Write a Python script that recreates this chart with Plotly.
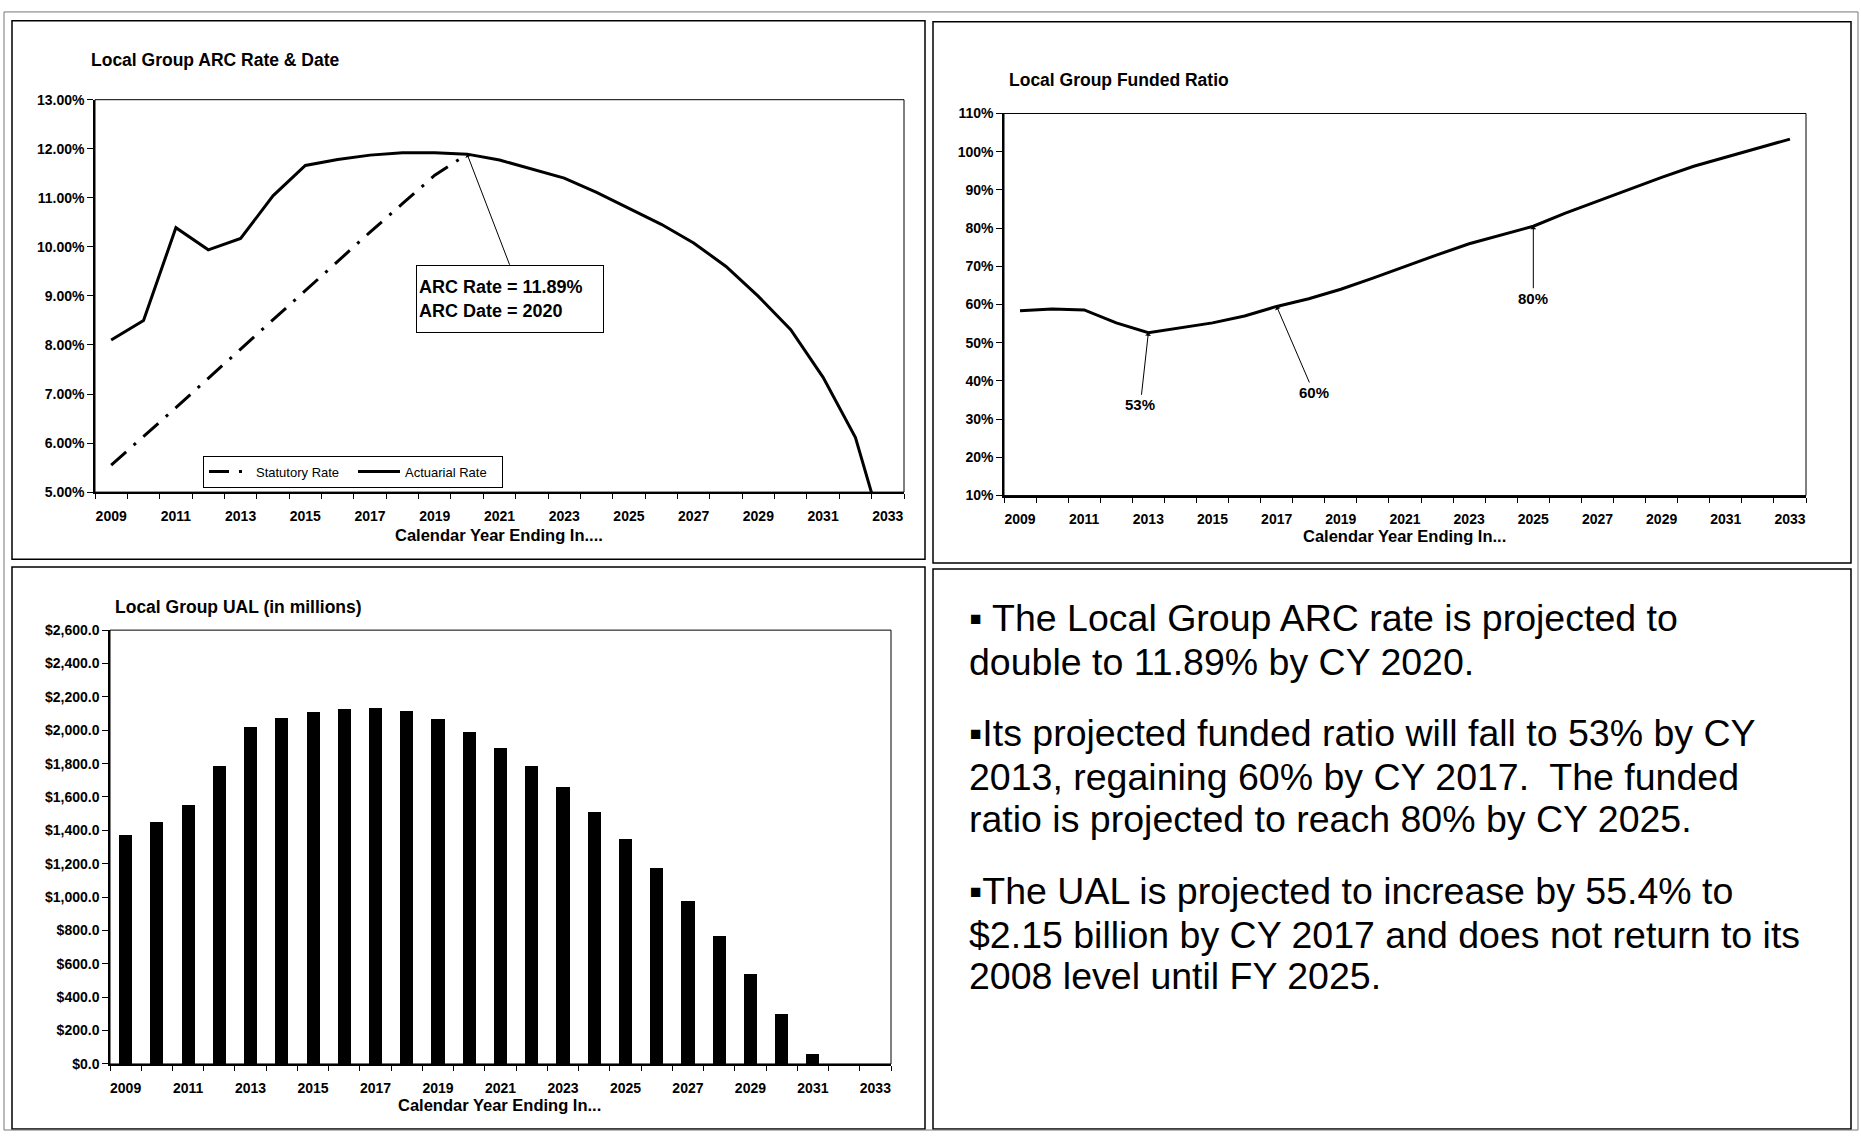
import plotly.graph_objects as go

W, H = 1861, 1139

# ---- data -------------------------------------------------------------
years = [2009, 2010, 2011, 2012, 2013, 2014, 2015, 2016, 2017, 2018, 2019, 2020,
         2021, 2022, 2023, 2024, 2025, 2026, 2027, 2028, 2029, 2030, 2031, 2032, 2033]
label_years = [2009, 2011, 2013, 2015, 2017, 2019, 2021, 2023, 2025, 2027, 2029, 2031, 2033]

# ARC rate (%)
actuarial_rate = [8.10, 8.50, 10.39, 9.94, 10.17, 11.04, 11.66, 11.78, 11.87, 11.92, 11.92, 11.89,
                  11.77, 11.59, 11.40, 11.11, 10.79, 10.46, 10.08, 9.60, 8.99, 8.31, 7.34, 6.11, 3.85]
statutory_years = [2009, 2010, 2011, 2012, 2013, 2014, 2015, 2016, 2017, 2018, 2019, 2020]
statutory_rate = [5.55, 6.13, 6.72, 7.32, 7.92, 8.52, 9.12, 9.70, 10.30, 10.88, 11.46, 11.89]

# Funded ratio (%)
funded_ratio = [58.4, 58.8, 58.6, 55.2, 52.6, 53.9, 55.2, 57.0, 59.5, 61.5, 64.0, 66.9,
                70.0, 73.0, 75.9, 78.2, 80.5, 83.9, 87.1, 90.2, 93.3, 96.2, 98.6, 101.0, 103.3]

# UAL ($ millions)
ual = [1373, 1449, 1554, 1787, 2020, 2070, 2107, 2125, 2135, 2112, 2064, 1990,
       1894, 1785, 1660, 1512, 1349, 1172, 978, 767, 540, 301, 61, 0, 0]

bullet_lines = [
    "\u25aa The Local Group ARC rate is projected to",
    "double to 11.89% by CY 2020.",
    "\u25aaIts projected funded ratio will fall to 53% by CY",
    "2013, regaining 60% by CY 2017.  The funded",
    "ratio is projected to reach 80% by CY 2025.",
    "\u25aaThe UAL is projected to increase by 55.4% to",
    "$2.15 billion by CY 2017 and does not return to its",
    "2008 level until FY 2025.",
]
bullet_line_y = [619, 663, 735, 780, 823, 896, 940, 982]


def px(x):
    return x / W


def py(y):
    return 1 - y / H


FONT = "Arial, Liberation Sans, sans-serif"
tick_font = dict(family=FONT, size=14, color="black", weight=700)

fig = go.Figure()

# ---- chart 1: ARC rate ------------------------------------------------
fig.add_trace(go.Scatter(
    x=statutory_years, y=statutory_rate, mode="lines", name="Statutory Rate",
    line=dict(color="black", width=3, dash="20px,10px,3px,10px"),
    xaxis="x", yaxis="y", showlegend=True))
fig.add_trace(go.Scatter(
    x=years, y=actuarial_rate, mode="lines", name="Actuarial Rate",
    line=dict(color="black", width=3),
    xaxis="x", yaxis="y", showlegend=True))

# ---- chart 2: funded ratio --------------------------------------------
fig.add_trace(go.Scatter(
    x=years, y=funded_ratio, mode="lines", name="Funded Ratio",
    line=dict(color="black", width=3),
    xaxis="x2", yaxis="y2", showlegend=False))

# ---- chart 3: UAL bars -------------------------------------------------
fig.add_trace(go.Bar(
    x=years, y=ual, name="UAL", marker=dict(color="black", line=dict(width=0)),
    width=0.42, xaxis="x3", yaxis="y3", showlegend=False))


def year_axis(x0, x1, anchor):
    return dict(
        domain=[px(x0), px(x1)], anchor=anchor, range=[2008.5, 2033.5],
        tickmode="array", tickvals=label_years, ticktext=[str(v) for v in label_years],
        ticks="", ticklabelstandoff=10, tickfont=tick_font,
        showgrid=False, zeroline=False,
        showline=True, linecolor="black", linewidth=2,
        minor=dict(tickmode="linear", tick0=2008.5, dtick=1, ticks="outside",
                   ticklen=5, tickwidth=1, tickcolor="black", showgrid=False),
    )


def value_axis(y0, y1, anchor, rng, dtick, **kw):
    d = dict(
        domain=[py(y1), py(y0)], anchor=anchor, range=rng, dtick=dtick, tick0=rng[0],
        ticks="outside", ticklen=6, tickwidth=1, tickcolor="black", tickfont=tick_font,
        showgrid=False, zeroline=False,
        showline=True, linecolor="black", linewidth=1.5,
    )
    d.update(kw)
    return d


fig.update_layout(
    width=W, height=H, margin=dict(l=0, r=0, t=0, b=0),
    paper_bgcolor="white", plot_bgcolor="white",
    font=dict(family=FONT, color="black"),
    bargap=0,
    xaxis=year_axis(95, 904, "y"),
    yaxis=value_axis(93, 491, "x", [5, 13], 1, tickformat=".2f", ticksuffix="%"),
    xaxis2=year_axis(1004, 1806, "y2"),
    yaxis2=value_axis(107, 494.5, "x2", [10, 110], 10, ticksuffix="%"),
    xaxis3=year_axis(110, 891, "y3"),
    yaxis3=value_axis(631, 1071, "x3", [0, 2600], 200, tickformat=",.1f", tickprefix="$"),
    legend=dict(
        orientation="h", x=px(203), y=py(454), xanchor="left", yanchor="top",
        bgcolor="white", bordercolor="black", borderwidth=1,
        font=dict(family=FONT, size=13, color="black"),
        itemwidth=42, tracegroupgap=0, entrywidth=92, entrywidthmode="pixels",
    ),
)

shapes = []
# plot-area frames
for xr, yr in (("x", "y"), ("x2", "y2"), ("x3", "y3")):
    shapes.append(dict(type="rect", xref=f"{xr} domain", yref=f"{yr} domain",
                       x0=0, x1=1, y0=0, y1=1, line=dict(color="black", width=1)))
# panel frames
for x0, y0, x1, y1 in ((12, 13, 925, 559), (933, 14, 1851, 563),
                       (12, 567, 925, 1137), (933, 569, 1851, 1137)):
    shapes.append(dict(type="rect", xref="paper", yref="paper",
                       x0=px(x0), x1=px(x1), y0=py(y1), y1=py(y0),
                       line=dict(color="black", width=1.5)))
shapes.append(dict(type="rect", xref="paper", yref="paper",
                   x0=px(4), x1=px(1858), y0=py(1138), y1=py(4),
                   line=dict(color="#777777", width=1)))
fig.update_layout(shapes=shapes)

annotations = []
title_font = dict(family=FONT, size=17.5, color="black", weight=700)
for text, x, y in (("Local Group ARC Rate & Date", 89, 53),
                   ("Local Group Funded Ratio", 1007, 73),
                   ("Local Group UAL (in millions)", 113, 608)):
    annotations.append(dict(text=text, x=px(x), y=py(y), xref="paper", yref="paper",
                            xanchor="left", yanchor="middle", showarrow=False, font=title_font))

axis_title_font = dict(family=FONT, size=16.5, color="black", weight=700)
for text, x, y in (("Calendar Year Ending In....", 499, 535),
                   ("Calendar Year Ending In...", 1404, 536),
                   ("Calendar Year Ending In...", 499, 1113)):
    annotations.append(dict(text=text, x=px(x), y=py(y), xref="paper", yref="paper",
                            xanchor="center", yanchor="middle", showarrow=False,
                            font=axis_title_font))

# ARC callout box and its pointer
annotations.append(dict(
    text="ARC Rate = 11.89%<br>ARC Date = 2020", x=px(510), y=py(295),
    xref="paper", yref="paper", xanchor="center", yanchor="middle",
    showarrow=False, align="left", width=182, height=62,
    bordercolor="black", borderwidth=1, borderpad=2, bgcolor="white",
    font=dict(family=FONT, size=18, color="black", weight=700)))
annotations.append(dict(
    text="", x=2020, y=statutory_rate[-1], xref="x", yref="y",
    showarrow=True, ax=43, ay=112, arrowhead=1, arrowsize=1, arrowwidth=1,
    arrowcolor="black"))

# funded ratio call-outs
label_font = dict(family=FONT, size=15, color="black", weight=700)
for yr, text, ax, ay in ((2013, "53%", -8, 72), (2017, "60%", 37, 86), (2025, "80%", 0, 72)):
    annotations.append(dict(
        text=text, x=yr, y=funded_ratio[years.index(yr)], xref="x2", yref="y2",
        showarrow=True, ax=ax, ay=ay, arrowhead=1, arrowsize=1, arrowwidth=1,
        arrowcolor="black", font=label_font))

# summary text
for line, y in zip(bullet_lines, bullet_line_y):
    annotations.append(dict(
        text=line, x=px(967), y=py(y), xref="paper", yref="paper",
        xanchor="left", yanchor="middle", showarrow=False,
        font=dict(family=FONT, size=37.5, color="black")))

fig.update_layout(annotations=annotations)

# pin the chart to the page's top-left corner
pin_script = (
    "document.documentElement.style.margin='0';"
    "document.documentElement.style.padding='0';"
    "document.body.style.margin='0';"
    "document.body.style.padding='0';"
    "document.body.style.overflow='hidden';"
    "var g=document.getElementById('{plot_id}');"
    "g.style.position='absolute';g.style.left='0px';g.style.top='0px';"
)
fig.write_html("out.html", post_script=pin_script)
